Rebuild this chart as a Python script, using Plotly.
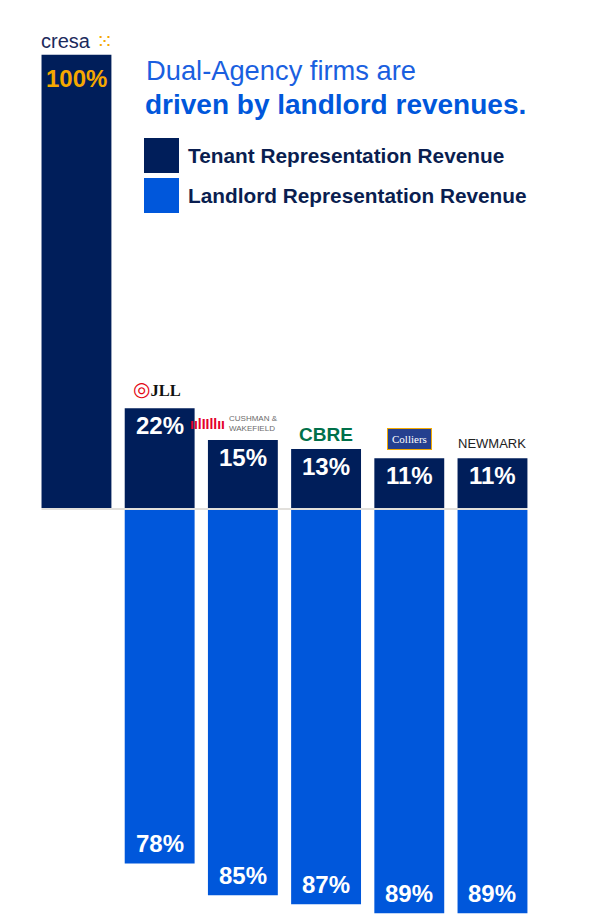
import plotly.graph_objects as go

firms = ["Cresa", "JLL", "Cushman & Wakefield", "CBRE", "Colliers", "Newmark"]
tenant_pct = [100, 22, 15, 13, 11, 11]
landlord_firms = ["JLL", "Cushman & Wakefield", "CBRE", "Colliers", "Newmark"]
landlord_pct = [78, 85, 87, 89, 89]
tenant_labels = ["100%", "22%", "15%", "13%", "11%", "11%"]
landlord_labels = ["78%", "85%", "87%", "89%", "89%"]

NAVY = "#001E5A"
BLUE = "#0057DB"
FONT = "Liberation Sans, Arial, sans-serif"
GAP = 0.45

xi = list(range(len(firms)))
xl = [firms.index(f) for f in landlord_firms]

fig = go.Figure()
fig.add_trace(go.Bar(
    x=xi, y=tenant_pct, width=0.84, marker=dict(color=NAVY, line=dict(width=0)),
    hoverinfo="skip", showlegend=False,
))
fig.add_trace(go.Bar(
    x=xl, y=[-v for v in landlord_pct], base=[-GAP] * len(xl), width=0.84,
    marker=dict(color=BLUE, line=dict(width=0)),
    hoverinfo="skip", showlegend=False,
))

# value labels
for i, (v, lab) in enumerate(zip(tenant_pct, tenant_labels)):
    col = "#F5A800" if i == 0 else "white"
    fig.add_annotation(x=xi[i], y=v, xref="x", yref="y", text=f"<b>{lab}</b>", showarrow=False,
                       yanchor="middle", yshift=-24 if i == 0 else -17,
                       font=dict(family=FONT, size=24, color=col))
for j, (v, lab) in enumerate(zip(landlord_pct, landlord_labels)):
    fig.add_annotation(x=xl[j], y=-(v + GAP), xref="x", yref="y", text=f"<b>{lab}</b>",
                       showarrow=False, yanchor="middle", yshift=20,
                       font=dict(family=FONT, size=24, color="white"))

# baseline shadow
fig.add_shape(type="line", xref="x", yref="y", x0=-0.42, x1=5.42, y0=-0.22, y1=-0.22,
              line=dict(color="#E2E0DC", width=2), layer="below")

# logos
def logo(i, text, font, yshift, xshift=0, xanchor="center", **kw):
    fig.add_annotation(x=xi[i], y=tenant_pct[i], xref="x", yref="y", text=text,
                       showarrow=False, yanchor="bottom", xanchor=xanchor,
                       xshift=xshift, yshift=yshift, font=font, **kw)

logo(0, "cresa<span style='color:#F5A800;font-family:DejaVu Sans;font-size:20px'> ⁙</span>",
     dict(family=FONT, size=20, color="#1B2A5C"), 0, xshift=1)
logo(1, "<span style='color:#E30613;font-family:DejaVu Sans;font-size:20px'>◎</span><b>JLL</b>",
     dict(family="Liberation Serif, serif", size=16.5, color="#111111"), 5, xshift=-3)
logo(2, "<b>ıılIIllıı</b>",
     dict(family=FONT, size=14, color="#E4002B"), 6, xshift=-16, xanchor="right")
logo(2, "CUSHMAN &amp;<br>WAKEFIELD",
     dict(family=FONT, size=8, color="#6B6B6B"), 5, xshift=-16, xanchor="left", align="left")
logo(3, "<b>CBRE</b>", dict(family=FONT, size=19, color="#00704A"), 2)
logo(4, "Colliers", dict(family="Liberation Serif, serif", size=11, color="white"), 8,
     bgcolor="#25408F", borderpad=4, bordercolor="#F2A900", borderwidth=1)
logo(5, "NEWMARK", dict(family=FONT, size=13, color="#222222"), 5)

# title
fig.add_annotation(xref="paper", yref="paper", x=144 / 590, y=1 - 70 / 919, xanchor="left",
                   yanchor="middle", showarrow=False, text="Dual-Agency firms are",
                   font=dict(family=FONT, size=27.3, color="#1A5FE0"))
fig.add_annotation(xref="paper", yref="paper", x=143 / 590, y=1 - 104 / 919, xanchor="left",
                   yanchor="middle", showarrow=False, text="<b>driven by landlord revenues.</b>",
                   font=dict(family=FONT, size=28, color="#0057DB"))

# legend
legend_items = [("Tenant Representation Revenue", NAVY), ("Landlord Representation Revenue", BLUE)]
for k, (lab, col) in enumerate(legend_items):
    top = 138 + k * 40
    fig.add_shape(type="rect", xref="paper", yref="paper", x0=144 / 590, x1=179 / 590,
                  y0=1 - (top + 35) / 919, y1=1 - top / 919, fillcolor=col, line=dict(width=0))
    fig.add_annotation(xref="paper", yref="paper", x=186 / 590, y=1 - (top + 17) / 919,
                       xanchor="left", yanchor="middle", showarrow=False, text=f"<b>{lab}</b>",
                       font=dict(family=FONT, size=20.8, color="#0A1E50"))

fig.update_layout(
    width=590, height=919, margin=dict(l=0, r=0, t=0, b=0),
    paper_bgcolor="white", plot_bgcolor="white", barmode="overlay",
    xaxis=dict(range=[-0.919, 6.172], visible=False, fixedrange=True),
    yaxis=dict(range=[-90.7, 112.1], visible=False, fixedrange=True),
)
fig.write_html("out.html")
